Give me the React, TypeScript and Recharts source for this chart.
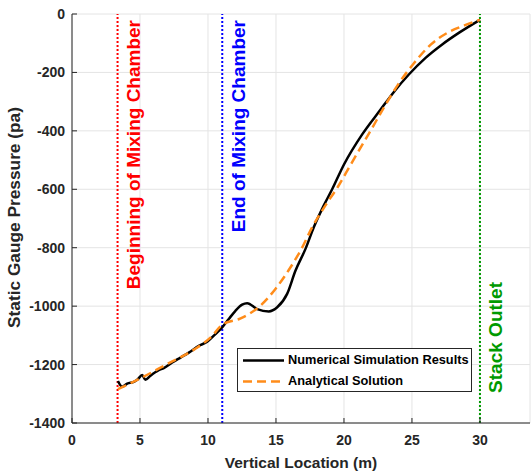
import React from "react";
import {
  LineChart,
  Line,
  XAxis,
  YAxis,
  CartesianGrid,
  ReferenceLine,
  Label,
} from "recharts";

// vertical location (m) and static gauge pressure (pa)
const numericalX = [
  3.38, 3.69, 4.06, 4.55, 4.84, 5.16, 5.4, 5.77, 6.38, 6.75, 7.37, 7.98, 8.59,
  9.32, 9.94, 10.43, 11.04, 11.53, 12.02, 12.51, 12.88, 13.62, 14.47, 15.09,
  15.82, 16.43, 17.17, 17.78, 18.51, 19.13, 20.0, 21.34, 22.68, 23.7, 24.77,
  26.0, 27.2, 28.5, 30.0,
];
const numericalP = [
  -1256, -1276, -1265, -1259, -1250, -1236, -1252, -1238, -1219, -1212, -1193,
  -1176, -1159, -1136, -1122, -1101, -1073, -1044, -1016, -995, -990, -1010,
  -1018, -1004, -958, -879, -804, -730, -656, -600, -515, -412, -328, -265,
  -207, -150, -105, -63, -20,
];

const analyticalX = [
  3.38, 5.0, 7.0, 9.0, 10.2, 11.1, 12.4, 13.86, 14.96, 16.07, 16.93, 17.66,
  18.64, 19.6, 20.5, 21.95, 23.0, 24.0, 25.1, 26.4, 27.7, 28.86, 30.0,
];
const analyticalP = [
  -1284, -1248, -1198, -1148, -1107, -1062, -1042, -998, -941, -867, -799,
  -730, -655, -588, -515, -400, -315, -240, -171, -104, -62, -39, -20,
];

const xTicks = [0, 5, 10, 15, 20, 25, 30];
const yTicks = [-1400, -1200, -1000, -800, -600, -400, -200, 0];

const mixingStart = 3.35;
const mixingEnd = 11.05;
const stackOutlet = 30;

const numerical = numericalX.map((x, i) => ({ x, p: numericalP[i] }));
const analytical = analyticalX.map((x, i) => ({ x, p: analyticalP[i] }));

const FONT = "'Liberation Sans', Arial, Helvetica, sans-serif";
const AXIS = "#262626";
const ORANGE = "#ff8c1a";

const tickStyle = { fill: AXIS, fontSize: 14, fontWeight: "bold", fontFamily: FONT };

function markerLabel(text: string, color: string, top: number) {
  return (props: any) => {
    const vb = props.viewBox || {};
    const bx = vb.x + 22.5;
    return (
      <text
        x={bx}
        y={top}
        transform={`rotate(-90 ${bx} ${top})`}
        textAnchor="end"
        fill={color}
        fontSize={19}
        fontWeight="bold"
        fontFamily={FONT}
      >
        {text}
      </text>
    );
  };
}

export default function App() {
  return (
    <div
      style={{
        position: "absolute",
        left: 0,
        top: 0,
        width: 531,
        height: 474,
        background: "#fff",
      }}
    >
      <LineChart
        width={531}
        height={474}
        margin={{ top: 14, right: 1, bottom: 0, left: 0 }}
      >
        <CartesianGrid stroke="#e4e4e4" strokeWidth={1} />
        <XAxis
          dataKey="x"
          type="number"
          domain={[0, 33.68]}
          ticks={xTicks}
          allowDataOverflow
          height={51}
          tick={tickStyle}
          tickSize={-5}
          tickMargin={17}
          tickLine={{ stroke: AXIS }}
          axisLine={{ stroke: AXIS }}
        >
          <Label
            content={(props: any) => {
              const vb = props.viewBox || {};
              return (
                <text
                  x={vb.x + vb.width / 2}
                  y={468}
                  textAnchor="middle"
                  fill={AXIS}
                  fontSize={15.5}
                  fontWeight="bold"
                  fontFamily={FONT}
                >
                  Vertical Location (m)
                </text>
              );
            }}
          />
        </XAxis>
        <XAxis
          xAxisId="top"
          orientation="top"
          type="number"
          domain={[0, 33.68]}
          ticks={xTicks}
          height={0}
          tick={false}
          tickSize={-5}
          tickLine={{ stroke: AXIS }}
          axisLine={{ stroke: AXIS }}
        />
        <YAxis
          type="number"
          domain={[-1400, 0]}
          ticks={yTicks}
          width={72}
          tick={tickStyle}
          tickSize={-5}
          tickMargin={12}
          tickLine={{ stroke: AXIS }}
          axisLine={{ stroke: AXIS }}
        >
          <Label
            content={(props: any) => {
              const vb = props.viewBox || {};
              const cx = 19.5;
              const cy = vb.y + vb.height / 2 - 1;
              return (
                <text
                  x={cx}
                  y={cy}
                  transform={`rotate(-90 ${cx} ${cy})`}
                  textAnchor="middle"
                  fill={AXIS}
                  fontSize={17.3}
                  fontWeight="bold"
                  fontFamily={FONT}
                >
                  Static Gauge Pressure (pa)
                </text>
              );
            }}
          />
        </YAxis>
        <YAxis
          yAxisId="right"
          orientation="right"
          type="number"
          domain={[-1400, 0]}
          ticks={yTicks}
          width={0}
          tick={false}
          tickSize={-5}
          tickLine={{ stroke: AXIS }}
          axisLine={{ stroke: AXIS }}
        />
        <ReferenceLine
          x={mixingStart}
          stroke="#ff0000"
          strokeWidth={2}
          strokeDasharray="2 2"
          label={markerLabel("Beginning of Mixing Chamber", "#ff0000", 20)}
        />
        <ReferenceLine
          x={mixingEnd}
          stroke="#0000ff"
          strokeWidth={2}
          strokeDasharray="2 2"
          label={markerLabel("End of Mixing Chamber", "#0000ff", 20)}
        />
        <ReferenceLine
          x={stackOutlet}
          stroke="#009a00"
          strokeWidth={2}
          strokeDasharray="2 2"
          label={markerLabel("Stack Outlet", "#009a00", 282)}
        />
        <Line
          data={numerical}
          dataKey="p"
          type="monotone"
          stroke="#000"
          strokeWidth={2.5}
          dot={false}
          isAnimationActive={false}
        />
        <Line
          data={analytical}
          dataKey="p"
          type="monotone"
          stroke={ORANGE}
          strokeWidth={2.5}
          strokeDasharray="9 5"
          dot={false}
          isAnimationActive={false}
        />
      </LineChart>

      {/* legend box, MATLAB style */}
      <div
        style={{
          position: "absolute",
          left: 237,
          top: 348,
          width: 233,
          height: 42,
          border: `1px solid ${AXIS}`,
          background: "#fff",
          fontFamily: FONT,
          fontWeight: "bold",
          fontSize: 12.8,
          color: "#000",
        }}
      >
        <svg
          width={46}
          height={42}
          style={{ position: "absolute", left: 4, top: 0 }}
        >
          <line x1={1} y1={11.5} x2={42} y2={11.5} stroke="#000" strokeWidth={2.5} />
          <line
            x1={1}
            y1={32.5}
            x2={42}
            y2={32.5}
            stroke={ORANGE}
            strokeWidth={2.5}
            strokeDasharray="9 5"
          />
        </svg>
        <div style={{ position: "absolute", left: 50, top: 3, whiteSpace: "nowrap" }}>
          Numerical Simulation Results
        </div>
        <div style={{ position: "absolute", left: 50, top: 24, whiteSpace: "nowrap" }}>
          Analytical Solution
        </div>
      </div>
    </div>
  );
}
